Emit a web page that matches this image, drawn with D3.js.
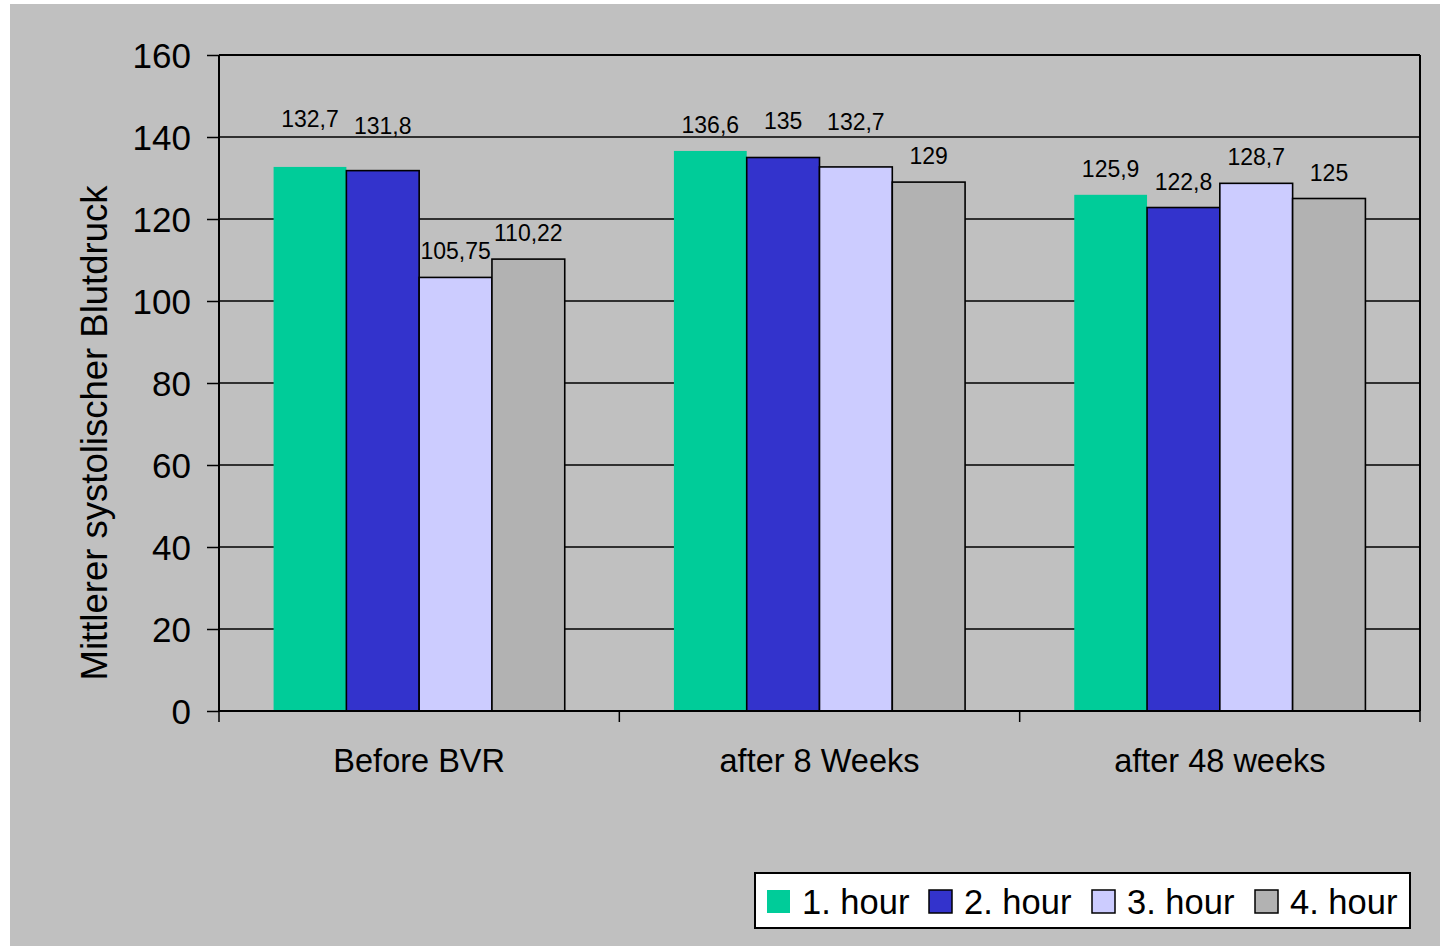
<!DOCTYPE html>
<html>
<head>
<meta charset="utf-8">
<script src="https://cdn.jsdelivr.net/npm/d3@7"></script>
<style>
  html, body { margin: 0; padding: 0; background: #ffffff; }
  svg { display: block; }
  text { font-family: "Liberation Sans", Arial, sans-serif; fill: #000; }
</style>
</head>
<body>
<svg id="chart" width="1446" height="947"></svg>
<script>
// ---- data ----
const categories = ["Before BVR", "after 8 Weeks", "after 48 weeks"];
const seriesNames = ["1. hour", "2. hour", "3. hour", "4. hour"];
const hour1 = [132.7, 136.6, 125.9];
const hour2 = [131.8, 135, 122.8];
const hour3 = [105.75, 132.7, 128.7];
const hour4 = [110.22, 129, 125];
const labels1 = ["132,7", "136,6", "125,9"];
const labels2 = ["131,8", "135", "122,8"];
const labels3 = ["105,75", "132,7", "128,7"];
const labels4 = ["110,22", "129", "125"];
const yTicks = [0, 20, 40, 60, 80, 100, 120, 140, 160];

// ---- layout / style ----
const seriesValues = [hour1, hour2, hour3, hour4];
const seriesLabels = [labels1, labels2, labels3, labels4];
const colors = ["#00CC99", "#3333CC", "#CCCCFF", "#B2B2B2"];
const strokes = ["none", "#000", "#000", "#000"];
// extra label lift (px) per series per category, mimicking the staggered placement
const labelLift = [[22, 0, 0], [19, 11, 0], [0, 19, 0], [0, 0, 0]];

const svg = d3.select("#chart");
const plot = { left: 219, right: 1420, top: 55, bottom: 711 };

// chart background
svg.append("rect").attr("x", 10).attr("y", 4).attr("width", 1430).attr("height", 942)
  .attr("fill", "#C0C0C0");

const x = d3.scaleBand().domain(categories).range([plot.left, plot.right]).padding(0);
const y = d3.scaleLinear().domain([0, 160]).range([plot.bottom, plot.top]);

// gridlines
svg.append("g").selectAll("line").data(yTicks.filter(d => d > 0)).join("line")
  .attr("x1", plot.left).attr("x2", plot.right)
  .attr("y1", d => y(d)).attr("y2", d => y(d))
  .attr("stroke", "#000").attr("stroke-width", 1.5);

// right border
svg.append("line").attr("x1", plot.right).attr("x2", plot.right)
  .attr("y1", plot.top).attr("y2", plot.bottom)
  .attr("stroke", "#000").attr("stroke-width", 2);

// bars
const bw = x.bandwidth();
const barW = bw / 5.5;
const gapOff = barW * 0.75;
seriesValues.forEach((vals, si) => {
  const g = svg.append("g");
  g.selectAll("rect").data(vals).join("rect")
    .attr("x", (d, i) => x(categories[i]) + gapOff + si * barW)
    .attr("y", d => y(d))
    .attr("width", barW)
    .attr("height", d => y(0) - y(d))
    .attr("fill", colors[si])
    .attr("stroke", strokes[si])
    .attr("stroke-width", 1.6);
  g.selectAll("text").data(vals).join("text")
    .attr("x", (d, i) => x(categories[i]) + gapOff + si * barW + barW / 2)
    .attr("y", (d, i) => y(d) - 18 - labelLift[si][i])
    .attr("text-anchor", "middle")
    .attr("font-size", 23)
    .text((d, i) => seriesLabels[si][i]);
});

// y axis
const yAxis = d3.axisLeft(y).tickValues(yTicks).tickSize(12).tickPadding(16).tickFormat(d3.format("d"));
const yg = svg.append("g").attr("transform", `translate(${plot.left},0)`).call(yAxis);
yg.select(".domain").attr("stroke", "#000").attr("stroke-width", 2).attr("d", `M0,${plot.bottom}V${plot.top}`);
yg.selectAll(".tick line").attr("stroke", "#000").attr("stroke-width", 1.5);
yg.selectAll(".tick text").attr("font-size", 35).attr("font-family", "'Liberation Sans', Arial, sans-serif").attr("fill", "#000").attr("dy", "0.36em");

// x axis
const xg = svg.append("g").attr("transform", `translate(0,${plot.bottom})`);
xg.append("line").attr("x1", plot.left).attr("x2", plot.right).attr("y1", 0).attr("y2", 0)
  .attr("stroke", "#000").attr("stroke-width", 2);
const boundaries = categories.map(c => x(c)).concat([x(categories[categories.length - 1]) + bw]);
xg.selectAll("line.tk").data(boundaries).join("line").attr("class", "tk")
  .attr("x1", d => d).attr("x2", d => d).attr("y1", 0).attr("y2", 11)
  .attr("stroke", "#000").attr("stroke-width", 1.5);
xg.selectAll("text").data(categories).join("text")
  .attr("x", d => x(d) + bw / 2).attr("y", 61)
  .attr("text-anchor", "middle").attr("font-size", 32.5)
  .text(d => d);

// top border
svg.append("line").attr("x1", plot.left).attr("x2", plot.right)
  .attr("y1", plot.top).attr("y2", plot.top)
  .attr("stroke", "#000").attr("stroke-width", 2);

// y axis title
svg.append("text")
  .attr("transform", `translate(107,${433}) rotate(-90)`)
  .attr("text-anchor", "middle").attr("font-size", 36.5)
  .text("Mittlerer systolischer Blutdruck");

// legend
const lg = svg.append("g");
lg.append("rect").attr("x", 755).attr("y", 873).attr("width", 655).attr("height", 55)
  .attr("fill", "#fff").attr("stroke", "#000").attr("stroke-width", 2);
const legX = [767, 929, 1092, 1255];
seriesNames.forEach((name, i) => {
  lg.append("rect").attr("x", legX[i]).attr("y", 890).attr("width", 23).attr("height", 23)
    .attr("fill", colors[i]).attr("stroke", strokes[i] === "none" ? "none" : "#000").attr("stroke-width", 1.5);
  lg.append("text").attr("x", legX[i] + 35).attr("y", 914).attr("font-size", 34.5).text(name);
});
</script>
</body>
</html>
